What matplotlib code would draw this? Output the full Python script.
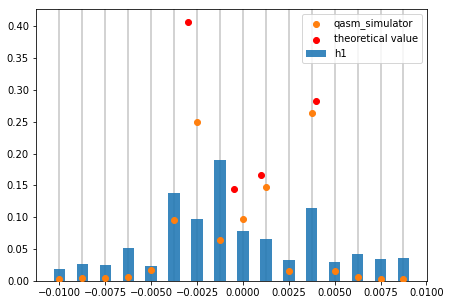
import numpy as np
import matplotlib
matplotlib.use("Agg")
import matplotlib.pyplot as plt

# bin centres (spacing 0.00125)
x = [-0.01, -0.00875, -0.0075, -0.00625, -0.005, -0.00375, -0.0025, -0.00125,
     0.0, 0.00125, 0.0025, 0.00375, 0.005, 0.00625, 0.0075, 0.00875]
h1 = [0.0188, 0.0267, 0.0251, 0.0518, 0.0235, 0.138, 0.0973, 0.190,
      0.0784, 0.0659, 0.033, 0.1145, 0.0298, 0.0424, 0.0345, 0.036]
qasm = [0.003, 0.005, 0.005, 0.006, 0.018, 0.095, 0.249, 0.065,
        0.098, 0.148, 0.015, 0.264, 0.015, 0.006, 0.003, 0.003]

theo_x = [-0.003, -0.0005, 0.001, 0.004]
theo_y = [0.406, 0.145, 0.167, 0.283]

fig = plt.figure(figsize=(451 / 72, 308 / 72), dpi=72)
ax = fig.add_subplot(111)
plt.subplots_adjust(left=0.0798, right=0.9468, top=0.9698, bottom=0.0877)

for xi in x:
    ax.axvline(xi, color="lightgray", linewidth=2, zorder=1)

bars = ax.bar(x, h1, width=0.000625, color="#1f77b4", alpha=0.88, zorder=2, label="h1")
s1 = ax.scatter(x, qasm, color="#ff7f0e", zorder=3, label="qasm_simulator")
s2 = ax.scatter(theo_x, theo_y, color="red", zorder=3, label="theoretical value")

ax.legend(handles=[s1, s2, bars], loc="upper right")
fig.savefig("out.png", dpi=72)
